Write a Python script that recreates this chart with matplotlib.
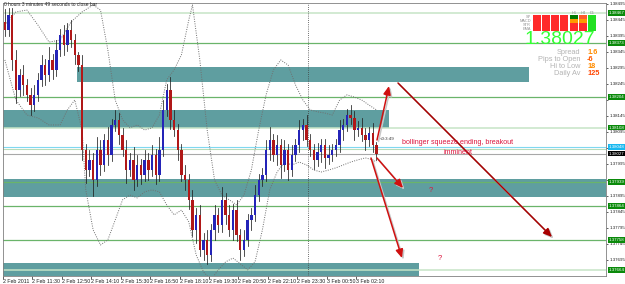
import matplotlib
matplotlib.use('Agg')
import matplotlib.pyplot as plt
from matplotlib.patches import Rectangle

plt.rcParams['font.family'] = ['Liberation Sans', 'DejaVu Sans']

# ---------------- data ----------------
first_open = 1.38440
closes = [
    1.38414, 1.38461, 1.38320, 1.38226, 1.38273, 1.38242, 1.38211, 1.38179, 1.38211, 1.38258,
    1.38304, 1.38273, 1.38320, 1.38289, 1.38351, 1.38398, 1.38367, 1.38414, 1.38382, 1.38336,
    1.38304, 1.38039, 1.37976, 1.38008, 1.37945, 1.38039, 1.37992, 1.38070, 1.38023, 1.38117,
    1.38133, 1.38086, 1.38039, 1.37976, 1.38008, 1.37945, 1.37992, 1.37961, 1.38008, 1.37976,
    1.38023, 1.37961, 1.38039, 1.38164, 1.38226, 1.38133, 1.38101, 1.38039, 1.37961, 1.37945,
    1.37883, 1.37789, 1.37836, 1.37726, 1.37758, 1.37711, 1.37789, 1.37836, 1.37804, 1.37883,
    1.37836, 1.37789, 1.37851, 1.37773, 1.37726, 1.37758, 1.37820, 1.37836, 1.37898, 1.37945,
    1.37961, 1.38039, 1.38070, 1.38023, 1.38054, 1.37992, 1.38039, 1.37976, 1.38023, 1.38054,
    1.38101, 1.38117, 1.38070, 1.38039, 1.38008, 1.38032, 1.38054, 1.38014, 1.38023, 1.38039,
    1.38054, 1.38101, 1.38117, 1.38148, 1.38139, 1.38101, 1.38108, 1.38086, 1.38070, 1.38092,
    1.38054, 1.38027,
]
upper_wick_pips = [
    4, 2, 2, 3, 2, 3, 2, 2, 3, 2,
    3, 2, 4, 2, 3, 2, 3, 2, 3, 2,
    1, 3, 2, 3, 2, 4, 3, 2, 4, 2,
    3, 2, 2, 3, 2, 4, 3, 2, 3, 2,
    3, 2, 4, 3, 2, 4, 3, 2, 2, 3,
    2, 3, 2, 3, 2, 3, 2, 3, 2, 4,
    2, 3, 2, 3, 2, 3, 2, 2, 3, 2,
    2, 3, 4, 2, 3, 2, 3, 2, 3, 2,
    3, 2, 3, 2, 2, 3, 2, 2, 3, 2,
    2, 3, 2, 2, 3, 2, 2, 3, 2, 2,
    3, 1,
]
lower_wick_pips = [
    2, 2, 3, 4, 2, 3, 2, 3, 2, 2,
    2, 3, 2, 3, 2, 2, 3, 2, 2, 3,
    2, 3, 4, 2, 5, 2, 3, 2, 3, 2,
    2, 3, 2, 4, 2, 3, 2, 3, 2, 3,
    2, 3, 2, 2, 2, 3, 2, 3, 2, 3,
    3, 2, 4, 2, 3, 3, 2, 3, 2, 2,
    3, 2, 3, 2, 3, 2, 2, 3, 2, 2,
    2, 2, 3, 2, 3, 4, 2, 3, 2, 2,
    2, 3, 2, 2, 3, 2, 3, 3, 2, 2,
    2, 2, 3, 2, 2, 3, 2, 2, 3, 2,
    2, 2,
]

band_upper_idx = [0, 3, 6, 9, 12, 15, 18, 21, 24, 26, 28, 30, 32, 34, 36, 38, 40, 42, 44, 46,
                  48, 50, 51, 53, 55, 57, 59, 61, 63, 65, 67, 69, 71, 73, 75, 77, 79, 81, 83,
                  85, 87, 89, 91, 93, 95, 97, 99, 101]
band_upper = [1.38429, 1.38470, 1.38476, 1.38429, 1.38376, 1.38382, 1.38439, 1.38470, 1.38492,
              1.38476, 1.38351, 1.38195, 1.38133, 1.38108, 1.38117, 1.38101, 1.38108, 1.38148,
              1.38258, 1.38289, 1.38336, 1.38445, 1.38492, 1.38320, 1.38101, 1.37945, 1.37898,
              1.37883, 1.37867, 1.37898, 1.37976, 1.38101, 1.38211, 1.38289, 1.38320, 1.38304,
              1.38242, 1.38195, 1.38164, 1.38158, 1.38154, 1.38148, 1.38195, 1.38211, 1.38204,
              1.38195, 1.38179, 1.38164]
band_lower_idx = [0, 3, 6, 9, 12, 15, 17, 19, 21, 22, 24, 26, 28, 30, 32, 34, 36, 38, 40, 42,
                  44, 46, 48, 50, 52, 54, 56, 58, 60, 62, 64, 66, 68, 70, 72, 74, 76, 78, 80,
                  82, 84, 86, 88, 90, 92, 94, 96, 98, 100, 101]
band_lower = [1.38320, 1.38195, 1.38148, 1.38139, 1.38117, 1.38117, 1.38164, 1.38195, 1.38101,
              1.37914, 1.37789, 1.37742, 1.37758, 1.37820, 1.37883, 1.37898, 1.37889, 1.37908,
              1.37914, 1.37908, 1.37867, 1.37836, 1.37851, 1.37814, 1.37711, 1.37658, 1.37633,
              1.37664, 1.37689, 1.37701, 1.37683, 1.37664, 1.37689, 1.37789, 1.37914, 1.37970,
              1.38001, 1.37992, 1.38001, 1.37992, 1.37976, 1.37970, 1.37976, 1.37983, 1.37992,
              1.38001, 1.38008, 1.38014, 1.38008, 1.38001]

x_tick_bars = [0, 8, 16, 24, 32, 40, 48, 56, 64, 72, 80, 88, 96]
x_tick_labels = ["2 Feb 2011", "2 Feb 11:30", "2 Feb 12:50", "2 Feb 14:10", "2 Feb 15:30",
                 "2 Feb 16:50", "2 Feb 18:10", "2 Feb 19:30", "2 Feb 20:50", "2 Feb 22:10",
                 "2 Feb 23:30", "3 Feb 00:50", "3 Feb 02:10"]
y_ticks = [1.37695, 1.37745, 1.37795, 1.37845, 1.37895, 1.37945, 1.37995, 1.38045, 1.38095,
           1.38145, 1.38195, 1.38245, 1.38295, 1.38345, 1.38395, 1.38445, 1.38495]

green_levels = [1.38373, 1.38204, 1.37939, 1.37864, 1.37758]
light_levels = [1.38467, 1.38108, 1.37664]
cyan_level = 1.38048
aux_level = 1.38042
bid_price = 1.38027
day_separator_bar = 83

# zones: (start bar, end bar, low price, high price)
zones = [(20, 143, 1.38251, 1.38298),
         (0, 105, 1.38108, 1.38164),
         (0, 164, 1.37892, 1.37948),
         (0, 113, 1.37645, 1.37686)]

spread, pips_open, hi_low, daily_av = "1.6", "-6", "18", "125"

# ---------------- figure ----------------
W, H = 625, 284
fig = plt.figure(figsize=(W / 100, H / 100), dpi=100)
fig.patch.set_facecolor('white')
ax = fig.add_axes([3 / W, 8 / H, 603 / W, 273 / H])
ax.set_xlim(0, 163.9)
ax.set_ylim(1.37645, 1.38498)

def fx(px):
    return px / W

def fy(py):
    return 1 - py / H

# zones
for x0, x1, lo, hi in zones:
    ax.add_patch(Rectangle((x0, lo), x1 - x0, hi - lo, facecolor='#5f9ea0',
                           edgecolor='none', zorder=1))

# horizontal levels
for lv in green_levels:
    ax.axhline(lv, color='#6ab46a', lw=0.9, zorder=2)
for lv in light_levels:
    ax.axhline(lv, color='#c6e4c6', lw=1.1, zorder=2)
ax.axhline(cyan_level, color='#7fd8f0', lw=0.8, zorder=2)
ax.axhline(aux_level, color='#b8dcb8', lw=0.8, zorder=2)
ax.axhline(bid_price, color='#a8a8a8', lw=0.8, zorder=2)

ax.axvline(day_separator_bar, color='#404040', ls=(0, (1, 1.6)), lw=0.6, zorder=2)

# bollinger bands
ax.plot([i + 0.5 for i in band_upper_idx], band_upper, color='#707070',
        ls=(0, (1, 1.4)), lw=0.7, zorder=3)
ax.plot([i + 0.5 for i in band_lower_idx], band_lower, color='#707070',
        ls=(0, (1, 1.4)), lw=0.7, zorder=3)

# candles
opens = [first_open] + closes[:-1]
for i, (o, c, uw, lw_) in enumerate(zip(opens, closes, upper_wick_pips, lower_wick_pips)):
    hi = max(o, c) + uw * 0.0001
    lo = min(o, c) - lw_ * 0.0001
    ax.plot([i + 0.5, i + 0.5], [lo, hi], color='#202020', lw=0.55, zorder=4)
    col = '#2424b8' if c >= o else '#b01818'
    body = max(abs(c - o), 0.00002)
    ax.add_patch(Rectangle((i + 0.5 - 0.32, min(o, c)), 0.64, body, facecolor=col,
                           edgecolor='none', zorder=5))

# axes styling
for s in ax.spines.values():
    s.set_color('#808080')
    s.set_linewidth(0.6)
ax.yaxis.tick_right()
box_levels = green_levels + light_levels + [cyan_level, bid_price]
ax.set_yticks(y_ticks)
ax.set_yticklabels(['' if any(abs(v - b) < 0.00012 for b in box_levels) else f'{v:.5f}'
                    for v in y_ticks])
ax.tick_params(axis='y', labelsize=3.2, length=1.5, width=0.5, pad=1.0, colors='#202020')
ax.set_xticks(x_tick_bars)
ax.set_xticklabels(x_tick_labels)
ax.tick_params(axis='x', labelsize=3.8, length=2, width=0.5, pad=0.5, colors='#202020')
for lab in ax.get_xticklabels():
    lab.set_horizontalalignment('left')

# right-side level boxes
ytr = ax.get_yaxis_transform()
def level_box(p, fc, tc='white'):
    ax.text(1.004, p, f'{p:.5f}', transform=ytr, fontsize=3.2, color=tc, va='center',
            ha='left', clip_on=False, zorder=10,
            bbox=dict(boxstyle='square,pad=0.15', fc=fc, ec='none'))
for lv in green_levels + light_levels:
    level_box(lv, '#0a8a0a')
level_box(cyan_level, '#19b8f0')
level_box(bid_price, '#000000')

# title
fig.text(fx(4), fy(4), '0 hours 3 minutes 49 seconds to close bar', fontsize=3.5,
         color='#202020', va='center', ha='left')

# signal panel
row_names = ['SP', 'MACD', 'STR', 'EMA']
row_y = [17, 21, 25, 29]
for name, yy in zip(row_names, row_y):
    fig.text(fx(531), fy(yy), name, fontsize=2.8, color='#909090', ha='right', va='center')
cell_cols = [533, 542, 551, 560, 570, 579, 588]
cell_colors = [
    ['#ff2a2a', '#ff2a2a', '#ff2a2a', '#ff2a2a', '#007a00', '#ff5a2a', '#22e022'],
    ['#ff2a2a', '#ff2a2a', '#ff2a2a', '#ff2a2a', '#ff9a00', '#ff9a00', '#22e022'],
    ['#ff2a2a', '#ff2a2a', '#ff2a2a', '#ff2a2a', '#ff2a2a', '#ff2a2a', '#22e022'],
    ['#ff2a2a', '#ff2a2a', '#ff2a2a', '#ff2a2a', '#ff2a2a', '#ff2a2a', '#22e022'],
]
for r, yy in enumerate(row_y):
    for cidx, xx in enumerate(cell_cols):
        fig.patches.append(Rectangle((fx(xx), fy(yy + 1.6)), 8 / W, 3.3 / H,
                                     transform=fig.transFigure, facecolor=cell_colors[r][cidx],
                                     edgecolor='none'))
for t, xx in zip(['H1', 'H4', 'D1'], [574, 583, 592]):
    fig.text(fx(xx), fy(13), t, fontsize=2.8, color='#909090', ha='center', va='center')

# big price
fig.text(fx(595), fy(40), '1.38027', fontsize=14, color='#33ff33', ha='right', va='center')

# info table
rows = [('Spread', spread, '#ff8c00'), ('Pips to Open', pips_open, '#ff5a00'),
        ('Hi to Low', hi_low, '#ff8c00'), ('Daily Av', daily_av, '#ff4500')]
for k, (lab, val, vc) in enumerate(rows):
    yy = 53 + k * 6.8
    fig.text(fx(580), fy(yy), lab, fontsize=5.3, color='#b4b4b4', ha='right', va='center')
    fig.text(fx(587), fy(yy), val, fontsize=5.3, color=vc, ha='left', va='center',
             fontweight='bold')

# countdown label next to last bar
fig.text(fx(380), fy(139), '<0:3:49', fontsize=3.2, color='#303030', ha='left', va='center')

# arrows
def arrow(p0, p1, color, lw=1.0):
    ax.annotate('', xy=(fx(p1[0] + 1.5), fy(p1[1] + 1.5)), xycoords='figure fraction',
                xytext=(fx(p0[0] + 1.5), fy(p0[1] + 1.5)), textcoords='figure fraction',
                arrowprops=dict(arrowstyle='-|>,head_length=0.5,head_width=0.22',
                                color='#c8c8c8', lw=lw, shrinkA=0, shrinkB=0), zorder=11)
    ax.annotate('', xy=(fx(p1[0]), fy(p1[1])), xycoords='figure fraction',
                xytext=(fx(p0[0]), fy(p0[1])), textcoords='figure fraction',
                arrowprops=dict(arrowstyle='-|>,head_length=0.5,head_width=0.22',
                                color=color, lw=lw, shrinkA=0, shrinkB=0), zorder=12)

arrow((377, 140), (389, 86), '#d01010', 1.1)
arrow((398, 83), (552, 237), '#a80000', 1.1)
arrow((377, 158), (403, 188), '#d01010', 1.1)
arrow((371, 158), (402, 258), '#d01010', 1.1)

# annotation text
fig.text(fx(402), fy(143), 'bollinger squeeze ending, breakout', fontsize=5.1,
         color='#dc143c', ha='left', va='center')
fig.text(fx(444), fy(152), 'imminent', fontsize=5.1, color='#dc143c', ha='left', va='center')
fig.text(fx(431), fy(190), '?', fontsize=5.5, color='#dc143c', ha='center', va='center')
fig.text(fx(440), fy(259), '?', fontsize=5.5, color='#dc143c', ha='center', va='center')

fig.savefig('out.png', dpi=100, facecolor='white')
